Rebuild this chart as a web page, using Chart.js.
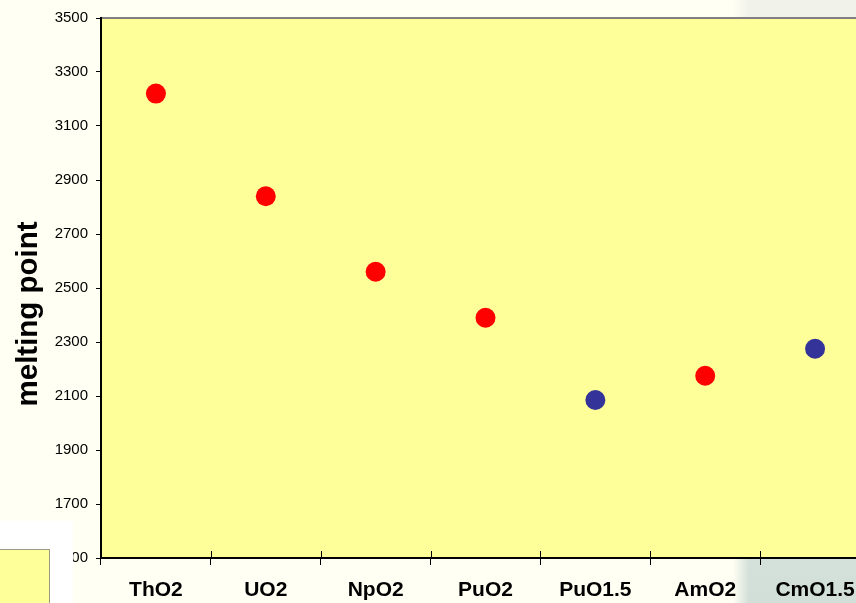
<!DOCTYPE html>
<html>
<head>
<meta charset="utf-8">
<script src="https://cdn.jsdelivr.net/npm/chart.js@4"></script>
<style>
  html, body { margin:0; padding:0; width:856px; height:603px; overflow:hidden; background:#fffff3; }
  #rightbg { position:absolute; left:733px; top:0; width:123px; height:603px;
    background: linear-gradient(to right, rgba(255,255,243,1) 0px, rgba(255,255,243,0) 16px),
                linear-gradient(to bottom, #f1f2ea 0%, #e4ebe3 50%, #d1dfd8 100%); }
  #wrap { position:absolute; left:0; top:0; width:880px; height:603px; }
  #whitebox { position:absolute; left:0; top:521px; width:73px; height:82px; background:#ffffff; z-index:5; }
  #legbox { position:absolute; left:-2px; top:549px; width:50px; height:60px; background:#ffff99; border:1px solid #9a9a80; z-index:6; }
</style>
</head>
<body>
<div id="rightbg"></div>
<div id="wrap"><canvas id="c" width="880" height="603"></canvas></div>
<div id="whitebox"></div>
<div id="legbox"></div>
<script>
const categories = ['ThO2', 'UO2', 'NpO2', 'PuO2', 'PuO1.5', 'AmO2', 'CmO1.5'];
const dioxideMeltingPoints = [3220, 2840, 2560, 2390, null, 2175, null];
const sesquioxideMeltingPoints = [null, null, null, null, 2085, null, 2275];
const yMin = 1500;
const yMax = 3500;
const yStep = 200;
const yAxisTitle = 'melting point';

const plotBg = {
  id: 'plotBg',
  beforeDraw(chart) {
    const { ctx, chartArea: a } = chart;
    ctx.save();
    ctx.fillStyle = '#ffff99';
    ctx.fillRect(a.left, a.top, a.right - a.left, a.bottom - a.top);
    ctx.strokeStyle = '#808080';
    ctx.lineWidth = 2;
    ctx.beginPath();
    ctx.moveTo(a.left, a.top);
    ctx.lineTo(a.right, a.top);
    ctx.stroke();
    ctx.restore();
  },
  afterDraw(chart) {
    const { ctx, chartArea: a, scales } = chart;
    const x = scales.x;
    ctx.save();
    ctx.strokeStyle = '#000';
    ctx.lineWidth = 1;
    const half = (x.getPixelForValue(1) - x.getPixelForValue(0)) / 2;
    for (let i = 0; i < categories.length; i++) {
      const px = Math.round(x.getPixelForValue(i) - half) + 0.5;
      ctx.beginPath();
      ctx.moveTo(px, a.bottom - 7);
      ctx.lineTo(px, a.bottom);
      ctx.stroke();
    }
    // y axis title
    ctx.fillStyle = '#000';
    ctx.font = 'bold 29.5px "Liberation Sans", Arial, sans-serif';
    ctx.textAlign = 'center';
    ctx.textBaseline = 'alphabetic';
    ctx.translate(37, a.top + (a.bottom - a.top) * 0.548);
    ctx.rotate(-Math.PI / 2);
    ctx.fillText(yAxisTitle, 0, 0);
    ctx.restore();
  }
};

new Chart(document.getElementById('c'), {
  type: 'line',
  data: {
    labels: categories,
    datasets: [
      { data: dioxideMeltingPoints, showLine: false, pointRadius: 10, pointHoverRadius: 10,
        backgroundColor: '#ff0000', borderColor: '#ff0000', pointBorderWidth: 0 },
      { data: sesquioxideMeltingPoints, showLine: false, pointRadius: 10, pointHoverRadius: 10,
        backgroundColor: '#333399', borderColor: '#333399', pointBorderWidth: 0 }
    ]
  },
  options: {
    responsive: false,
    devicePixelRatio: 1,
    animation: false,
    layout: { padding: { left: 0, top: 18, right: 4, bottom: 0 } },
    plugins: { legend: { display: false }, tooltip: { enabled: false } },
    scales: {
      x: {
        offset: true,
        afterFit(s) { s.height = 45; },
        grid: { offset: true, drawOnChartArea: false, color: '#000', tickLength: 7, tickWidth: 1 },
        border: { color: '#000', width: 2 },
        ticks: { color: '#000', padding: 13, maxRotation: 0, autoSkip: false,
          font: { family: '"Liberation Sans", Arial, sans-serif', size: 21, weight: 'bold' } }
      },
      y: {
        min: yMin, max: yMax,
        afterFit(s) { s.width = 101; },
        grid: { drawOnChartArea: false, color: '#000', tickLength: 5 },
        border: { color: '#000', width: 2 },
        ticks: { stepSize: yStep, color: '#000', padding: 8,
          callback: (v) => String(v),
          font: { family: '"Liberation Sans", Arial, sans-serif', size: 15 } }
      }
    }
  },
  plugins: [plotBg]
});
</script>
</body>
</html>
